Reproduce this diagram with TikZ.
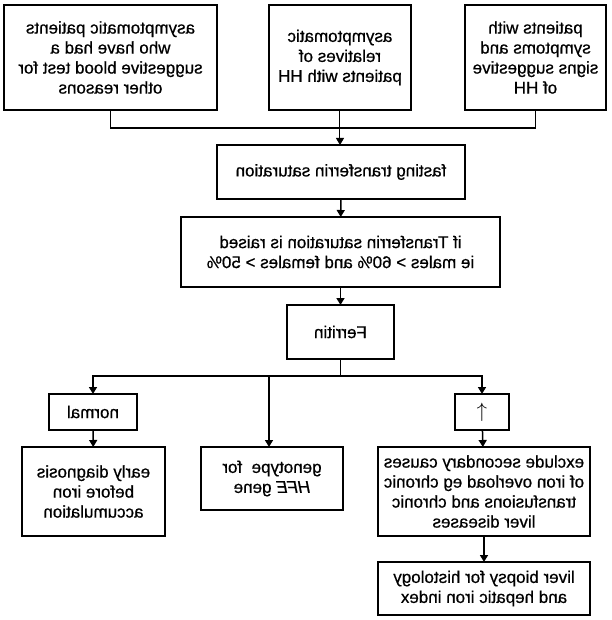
\documentclass[tikz,border=0pt]{standalone}
\usepackage{fontspec}
\setmainfont{Liberation Sans}
\newfontfamily\heavy{Liberation Sans}[FakeBold=0.7]
\usetikzlibrary{arrows.meta}

\begin{document}
\begin{tikzpicture}
	[xscale=-1, x=1pt, y=-1pt,
	 every node/.style={transform shape, font=\heavy\fontsize{17}{20}\selectfont},
	 box/.style={draw, line width=1.8pt, align=center, inner sep=0pt, outer sep=0pt},
	 link/.style={line width=1.5pt},
	 arrow/.style={link, -{Triangle[length=7pt,width=8pt]}}]
	\useasboundingbox (0,0) rectangle (611,620);
	% entry groups
	\node[box, minimum width=141, minimum height=105] (sym) at (75.5,57.5) {patients with\\symptoms and\\signs suggestive\\of HH};
	\node[box, minimum width=142, minimum height=105] (rel) at (271,57.5) {asymptomatic\\relatives of\\patients with HH};
	\node[box, minimum width=213, minimum height=105] (blood) at (500.5,57.5) {asymptomatic patients\\who have had a\\suggestive blood test for\\other reasons};
	% tests
	\node[box, minimum width=248, minimum height=54] (tsat) at (270,172) {fasting transferrin saturation};
	\node[box, minimum width=319, minimum height=70] (raised) at (270.5,252) {if Transferrin saturation is raised\\ie males > 60\% and females > 50\%};
	\node[box, minimum width=107, minimum height=54] (ferr) at (270.5,332) {Ferritin};
	% outcomes
	\node[box, minimum width=88, minimum height=36] (norm) at (518,412) {normal};
	\node[box, minimum width=54, minimum height=36] (high) at (129,412) {\fontsize{22}{22}\selectfont$\uparrow$};
	\node[box, minimum width=143, minimum height=89] (early) at (517.5,491.5) {early diagnosis\\before iron\\accumulation};
	\node[box, minimum width=142, minimum height=63] (hfe) at (339,478.5) {genotype\ \ for\\{\itshape HFE} gene};
	\node[box, minimum width=212, minimum height=89] (excl) at (127,491.5) {exclude secondary causes\\of iron overload eg chronic\\transfusions and chronic\\liver diseases};
	\node[box, minimum width=212, minimum height=53] (biopsy) at (127,588.5) {liver biopsy for histology\\and hepatic iron index};

	\draw[link] (sym.south) -- ++(0,18) -| (blood.south);
	\draw[link, line width=1pt, -{Triangle[length=7pt,width=8pt]}] (rel.south) -- (rel.south |- tsat.north);
	\draw[link] (ferr.south) -- ++(0,17) coordinate (split);
	\draw[arrow] (split) -| (norm.north);
	\draw[arrow] (split) -| (high.north);
	\draw[arrow] (split -| 342,0) -- (342,0 |- hfe.north);
	\foreach \a/\b in {tsat/raised,raised/ferr,norm/early,high/excl,excl/biopsy}
	\draw[arrow] (\a) -- (\b);
\end{tikzpicture}
\end{document}
